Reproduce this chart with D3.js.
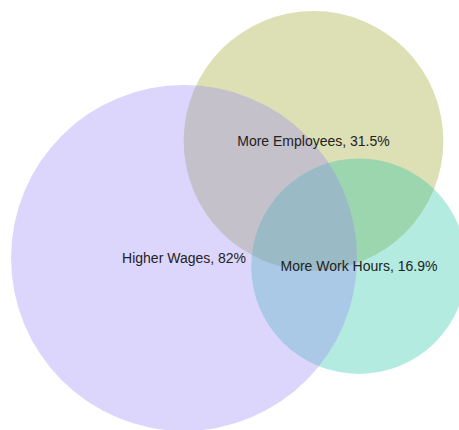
<!DOCTYPE html>
<html>
<head>
<meta charset="utf-8">
<script src="https://cdn.jsdelivr.net/npm/d3@7/dist/d3.min.js"></script>
<style>
  html, body { margin: 0; padding: 0; background: #fff; }
  svg { display: block; }
  .label { font-family: "Liberation Sans", Arial, sans-serif; font-size: 14px; fill: #222; }
</style>
</head>
<body>
<div id="chart"></div>
<script>
// Sets, in drawing order (back to front)
const setNames  = ["More Employees", "More Work Hours", "Higher Wages"];
const setValues = [31.5, 16.9, 82];            // percent of respondents
const setColors = ["#9ba422", "#1fc4a4", "#9886f6"];

// Venn layout centres, in layout units
const layoutX = [68.3, 78.2, 40.1];
const layoutY = [30.7, 58.0, 56.2];

const width = 459, height = 430;

const svg = d3.select("#chart").append("svg")
  .attr("width", width)
  .attr("height", height);

// Layout units -> pixels (uniform in both directions)
const x = d3.scaleLinear().domain([0, 100]).range([0, width]);
const y = d3.scaleLinear().domain([0, 100]).range([0, width]);

// Set value -> circle radius
const r = d3.scalePow().exponent(0.3).domain([0, 82]).range([0, 173]);

const sets = setNames.map((name, i) => ({
  name, value: setValues[i], color: setColors[i], lx: layoutX[i], ly: layoutY[i]
}));

svg.append("g").selectAll("circle")
  .data(sets)
  .join("circle")
  .attr("cx", d => x(d.lx))
  .attr("cy", d => y(d.ly))
  .attr("r", d => r(d.value))
  .attr("fill", d => d.color)
  .attr("fill-opacity", 0.34);

svg.append("g").selectAll("text")
  .data(sets)
  .join("text")
  .attr("class", "label")
  .attr("x", d => x(d.lx))
  .attr("y", d => y(d.ly))
  .attr("dy", "0.35em")
  .attr("text-anchor", "middle")
  .text(d => `${d.name}, ${d.value}%`);
</script>
</body>
</html>
